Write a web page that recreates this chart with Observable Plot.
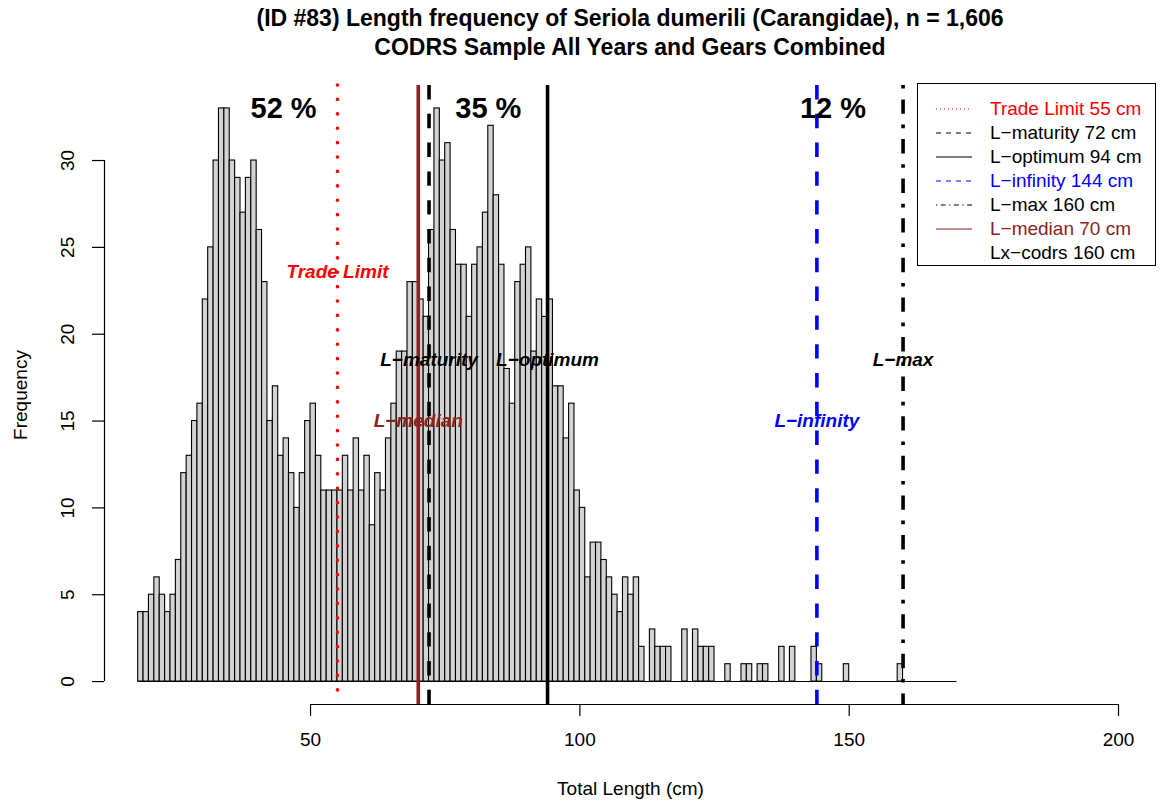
<!DOCTYPE html>
<html>
<head>
<meta charset="utf-8">
<script src="https://cdn.jsdelivr.net/npm/d3@7"></script>
<script src="https://cdn.jsdelivr.net/npm/@observablehq/plot@0.6"></script>
<style>
  body { margin: 0; background: #fff; font-family: "Liberation Sans", Arial, Helvetica, sans-serif; }
  #wrap { position: relative; width: 1161px; height: 805px; overflow: hidden; background: #fff; }
  #title { position: absolute; left: 104px; width: 1052px; top: 4px; text-align: center;
           font-weight: bold; font-size: 23px; line-height: 29px; color: #000; }
  #chart { position: absolute; left: 0; top: 66px; }
  #legend { position: absolute; left: 917px; top: 83px; width: 239px; height: 183px;
            border: 1px solid #000; box-sizing: border-box; background: #fff; }
  .lrow { position: absolute; left: 0; height: 24px; width: 100%; }
  .lrow svg { position: absolute; left: 17px; top: 0; }
  .lrow span { position: absolute; left: 72px; top: 0; font-size: 19px; line-height: 24px; white-space: nowrap; }
</style>
</head>
<body>
<div id="wrap">
  <div id="title">(ID #83) Length frequency of Seriola dumerili (Carangidae), n = 1,606<br>CODRS Sample All Years and Gears Combined</div>
  <div id="chart"></div>
  <div id="legend"></div>
</div>
<script>
// ---------------- data ----------------
const binStart = 18;          // first bin's lower edge (cm)
const binWidth = 1;           // cm
const counts = [
  // 18-36
  4,4,5,6,5,4,5,7,12,13,15,16,22,25,30,33,33,30,29,
  // 37-56
  27,29,30,26,23,15,17,13,14,12,10,12,15,16,13,11,11,11,11,13,
  // 57-76
  11,14,11,13,9,12,11,14,16,19,19,23,23,22,21,26,33,30,31,26,
  // 77-96
  24,24,21,24,25,27,32,28,24,18,16,23,24,25,19,22,21,22,17,17,
  // 97-116
  14,16,11,10,6,8,8,7,6,5,4,6,5,6,2,0,3,2,2,2,
  // 117-136
  0,0,3,0,3,2,2,2,0,0,1,0,0,1,1,0,1,1,0,0,
  // 137-156
  2,0,2,0,0,0,2,1,0,0,0,0,1,0,0,0,0,0,0,0,
  // 157-169
  0,0,1,0,0,0,0,0,0,0,0,0,0
];
const xTicks = [50, 100, 150, 200];
const yTicks = [0, 5, 10, 15, 20, 25, 30];
const refNames  = ["Trade Limit", "L\u2212maturity", "L\u2212optimum", "L\u2212infinity", "L\u2212max", "L\u2212median"];
const refValues = [55, 72, 94, 144, 160, 70];
const lxName = "Lx\u2212codrs";
const lxValue = 160;
const pctLabels = ["52 %", "35 %", "12 %"];
const xLabel = "Total Length (cm)";
const yLabel = "Frequency";

// ---------------- layout / style ----------------
const xDomain = [11.75, 207.05];
const yDomain = [-1.32, 34.32];
const pctX = [45, 83, 147];
const pctY = 33;
const refLabelY = {"Trade Limit": 23.6, "L\u2212maturity": 18.5, "L\u2212optimum": 18.5, "L\u2212infinity": 15, "L\u2212max": 18.5, "L\u2212median": 15};
const refStyle = {
  "Trade Limit":   {color: "#FF0000", dash: "0.1,14.3", cap: "round", legendDash: "1,3"},
  "L\u2212maturity": {color: "#000000", dash: "14.4,14.4", cap: "butt", legendDash: "5,5"},
  "L\u2212optimum":  {color: "#000000", dash: null, cap: "butt", legendDash: null},
  "L\u2212infinity": {color: "#0000FF", dash: "14.4,14.4", cap: "butt", legendDash: "5,5"},
  "L\u2212max":      {color: "#000000", dash: "3.6,10.8,14.4,10.8", cap: "butt", legendDash: "1.2,3.6,4.8,3.6"},
  "L\u2212median":   {color: "#8B2323", dash: null, cap: "butt", legendDash: null}
};

// ---------------- build ----------------
const bins = counts.map((c, i) => ({x0: binStart + i * binWidth, x1: binStart + (i + 1) * binWidth, count: c}));
const refs = refNames.map((n, i) => ({name: n, value: refValues[i]}));
const pcts = pctLabels.map((t, i) => ({text: t, x: pctX[i]}));

const marks = [
  Plot.rectY(bins.filter(d => d.count > 0), {x1: "x0", x2: "x1", y: "count", fill: "#D3D3D3", stroke: "#000", strokeWidth: 1.1}),
  Plot.ruleY([0], {x1: bins[0].x0, x2: bins[bins.length - 1].x1, stroke: "#000", strokeWidth: 1.1}),
  ...refs.map(r => Plot.ruleX([r], {
    x: "value", stroke: refStyle[r.name].color, strokeWidth: 3.6,
    strokeDasharray: refStyle[r.name].dash, strokeLinecap: refStyle[r.name].cap
  })),
  // x axis
  Plot.ruleY([yDomain[0]], {x1: d3.min(xTicks), x2: d3.max(xTicks), stroke: "#000", strokeWidth: 1.2}),
  Plot.axisX(xTicks, {anchor: "bottom", tickSize: 12, tickPadding: 16, fontSize: 19, label: null, strokeWidth: 1.2, tickFormat: d => String(d)}),
  Plot.text([xLabel], {frameAnchor: "bottom", dy: 84, fontSize: 19, lineAnchor: "middle"}),
  // y axis
  Plot.ruleX([xDomain[0]], {y1: d3.min(yTicks), y2: d3.max(yTicks), stroke: "#000", strokeWidth: 1.2}),
  Plot.axisY(yTicks, {anchor: "left", tickSize: 12, tickFormat: () => "", label: null, strokeWidth: 1.2}),
  Plot.text(yTicks, {y: d => d, text: d => String(d), frameAnchor: "left", dx: -37, rotate: -90, textAnchor: "middle", lineAnchor: "middle", fontSize: 19}),
  Plot.text([yLabel], {frameAnchor: "left", dx: -84, rotate: -90, textAnchor: "middle", lineAnchor: "middle", fontSize: 19}),
  // annotations
  Plot.text(refs, {x: "value", y: d => refLabelY[d.name], text: "name", fill: d => refStyle[d.name].color,
    fontStyle: "italic", fontWeight: "bold", fontSize: 19, lineAnchor: "middle"}),
  Plot.text(pcts, {x: "x", y: pctY, text: "text", fontWeight: "bold", fontSize: 29, lineAnchor: "middle"})
];

const chart = Plot.plot({
  width: 1161,
  height: 739,
  marginLeft: 104,
  marginRight: 5,
  marginTop: 19,
  marginBottom: 101,
  x: {domain: xDomain, axis: null},
  y: {domain: yDomain, axis: null},
  style: {fontFamily: '"Liberation Sans", Arial, Helvetica, sans-serif', fontSize: "19px", color: "#000", background: "transparent", overflow: "visible"},
  marks
});
document.getElementById("chart").appendChild(chart);

// ---------------- legend ----------------
const legendItems = refs.map(r => ({text: `${r.name} ${r.value} cm`, color: refStyle[r.name].color, dash: refStyle[r.name].legendDash, line: true}));
legendItems.push({text: `${lxName} ${lxValue} cm`, color: "#000000", dash: null, line: false});
const legend = document.getElementById("legend");
legendItems.forEach((it, i) => {
  const row = document.createElement("div");
  row.className = "lrow";
  row.style.top = (13 + i * 24) + "px";
  if (it.line) {
    row.innerHTML = `<svg width="38" height="24"><line x1="1" x2="37" y1="12" y2="12" stroke="${it.color}" stroke-width="1.2" ${it.dash ? `stroke-dasharray="${it.dash}"` : ""}/></svg>`;
  }
  const span = document.createElement("span");
  span.textContent = it.text;
  span.style.color = it.color;
  row.appendChild(span);
  legend.appendChild(row);
});
</script>
</body>
</html>
